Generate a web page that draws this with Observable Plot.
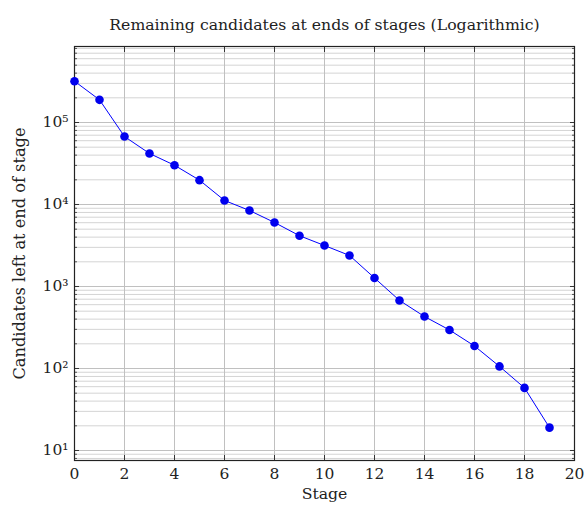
<!DOCTYPE html>
<html>
<head>
<meta charset="utf-8">
<script src="https://cdn.jsdelivr.net/npm/d3@7"></script>
<script src="https://cdn.jsdelivr.net/npm/@observablehq/plot@0.6"></script>
<style>
  html, body { margin: 0; padding: 0; background: #fff; }
  svg, svg text { font-family: "DejaVu Serif", serif !important; }
</style>
</head>
<body>
<div id="chart"></div>
<script>
const stages = [0,1,2,3,4,5,6,7,8,9,10,11,12,13,14,15,16,17,18,19];
const candidates = [319000,189000,67400,41900,30100,19800,11200,8450,6030,4160,3160,2390,1270,676,430,295,188,106,58,19];
const xTicks = [0,2,4,6,8,10,12,14,16,18,20];
const yMajor = [10,100,1000,10000,100000];
const yTickLabels = ["10¹","10²","10³","10⁴","10⁵"];
const yMinor = [];
for (const d of [1,10,100,1000,10000,100000]) for (let k = 2; k <= 9; k++) { const v = d*k; if (v > 7.5 && v < 846000) yMinor.push(v); }

const title = "Remaining candidates at ends of stages (Logarithmic)";
const xLabel = "Stage";
const yLabel = "Candidates left at end of stage";

const data = stages.map((s, i) => ({stage: s, n: candidates[i]}));
const labelOf = new Map(yMajor.map((v, i) => [v, yTickLabels[i]]));
const none = () => "";
const serif = "DejaVu Serif, serif";

const chart = Plot.plot({
  width: 584,
  height: 508,
  marginTop: 46,
  marginBottom: 48,
  marginLeft: 74,
  marginRight: 10,
  style: {fontFamily: serif, fontSize: "15px", background: "#fff"},
  x: {domain: [0, 20]},
  y: {type: "log", domain: [7.55, 845000]},
  marks: [
    Plot.ruleY(yMinor, {stroke: "#d4d4d4", strokeWidth: 1}),
    Plot.ruleY(yMajor, {stroke: "#c0c0c0", strokeWidth: 1}),
    Plot.ruleX(xTicks, {stroke: "#c0c0c0", strokeWidth: 1}),
    Plot.axisX({anchor: "bottom", ticks: xTicks, tickSize: -5, tickPadding: 12, tickFormat: d => String(d), fontSize: 15.5, label: null, stroke: "#333", fill: "#222"}),
    Plot.axisX({anchor: "top", ticks: xTicks, tickSize: -5, tickFormat: none, label: null, stroke: "#333"}),
    Plot.axisY({anchor: "left", ticks: yMajor, tickSize: -5, tickPadding: 11, tickFormat: d => labelOf.get(d), fontSize: 15.5, label: null, stroke: "#333", fill: "#222"}),
    Plot.axisY({anchor: "left", ticks: yMinor, tickSize: -3, tickFormat: none, label: null, stroke: "#555"}),
    Plot.axisY({anchor: "right", ticks: yMajor, tickSize: -5, tickFormat: none, label: null, stroke: "#333"}),
    Plot.axisY({anchor: "right", ticks: yMinor, tickSize: -3, tickFormat: none, label: null, stroke: "#555"}),
    Plot.frame({stroke: "#222", strokeWidth: 1.2}),
    Plot.line(data, {x: "stage", y: "n", stroke: "#0000ff", strokeWidth: 1}),
    Plot.dot(data, {x: "stage", y: "n", r: 4.3, fill: "#0000ee", stroke: "none"}),
    Plot.text([title], {frameAnchor: "top", dy: -28, text: d => d, fontSize: 15.7, fontFamily: serif, fill: "#222"}),
    Plot.text([xLabel], {frameAnchor: "bottom", dy: 38, text: d => d, fontSize: 15.7, fontFamily: serif, fill: "#222"}),
    Plot.text([yLabel], {frameAnchor: "left", dx: -55, rotate: -90, textAnchor: "middle", text: d => d, fontSize: 16.2, fontFamily: serif, fill: "#222"})
  ]
});
document.getElementById("chart").appendChild(chart);
</script>
</body>
</html>
